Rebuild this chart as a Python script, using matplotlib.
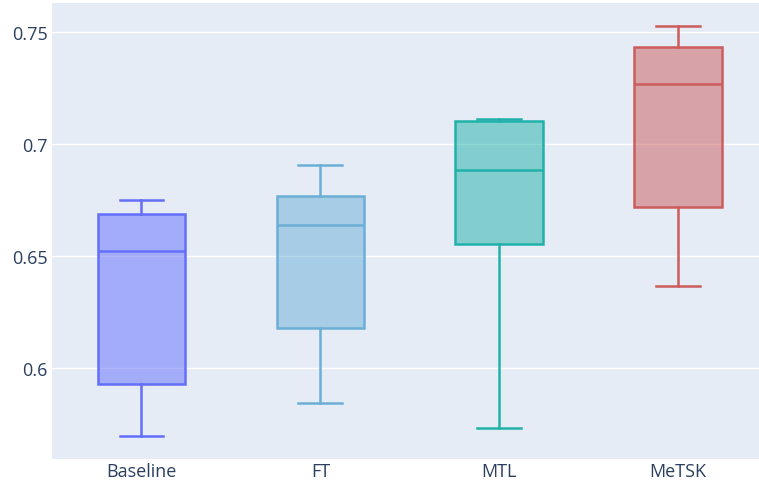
import matplotlib
matplotlib.use('Agg')
from matplotlib import pyplot as plt
from matplotlib.colors import to_rgba

plt.rcParams['font.family'] = ['Open Sans', 'DejaVu Sans']

methods = ['Baseline', 'FT', 'MTL', 'MeTSK']
lower_whisker = [0.5694, 0.5840, 0.5728, 0.6364]
q1 = [0.5928, 0.6179, 0.6551, 0.6719]
median = [0.6519, 0.6637, 0.6882, 0.7267]
q3 = [0.6686, 0.6768, 0.7104, 0.7435]
upper_whisker = [0.6747, 0.6906, 0.7111, 0.7529]
colors = ['#636efa', '#6baed6', '#20b2aa', '#cd5c5c']

fig = plt.figure(figsize=(7.59, 4.85), dpi=100)
ax = fig.add_axes([52 / 759, 25 / 485, 715.6 / 759, 456 / 485])
ax.set_facecolor('#e5ecf6')

# one box per method, built from the read-off quartiles
for i, name in enumerate(methods):
    stats = [{'label': name, 'whislo': lower_whisker[i], 'q1': q1[i], 'med': median[i],
              'q3': q3[i], 'whishi': upper_whisker[i], 'fliers': []}]
    c = colors[i]
    ax.bxp(stats, positions=[i], widths=0.49, patch_artist=True, showfliers=False,
           boxprops=dict(facecolor=to_rgba(c, 0.5), edgecolor=c, linewidth=1.8),
           medianprops=dict(color=c, linewidth=1.8),
           whiskerprops=dict(color=c, linewidth=1.8),
           capprops=dict(color=c, linewidth=1.8),
           capwidths=0.245, zorder=3)

ax.set_xlim(-0.5, 3.5)
ax.set_ylim(0.5591, 0.7630)
ax.set_yticks([0.6, 0.65, 0.7, 0.75])
ax.set_yticklabels(['0.6', '0.65', '0.7', '0.75'])
ax.set_xticks(range(len(methods)))
ax.set_xticklabels(methods)
ax.grid(axis='y', color='white', linewidth=1.0, zorder=0)
ax.set_axisbelow(True)
for s in ax.spines.values():
    s.set_visible(False)
ax.tick_params(axis='both', length=0, labelsize=13, labelcolor='#2a3f5f')
ax.tick_params(axis='y', pad=3)
ax.tick_params(axis='x', pad=2)

fig.savefig('out.png', dpi=100)
